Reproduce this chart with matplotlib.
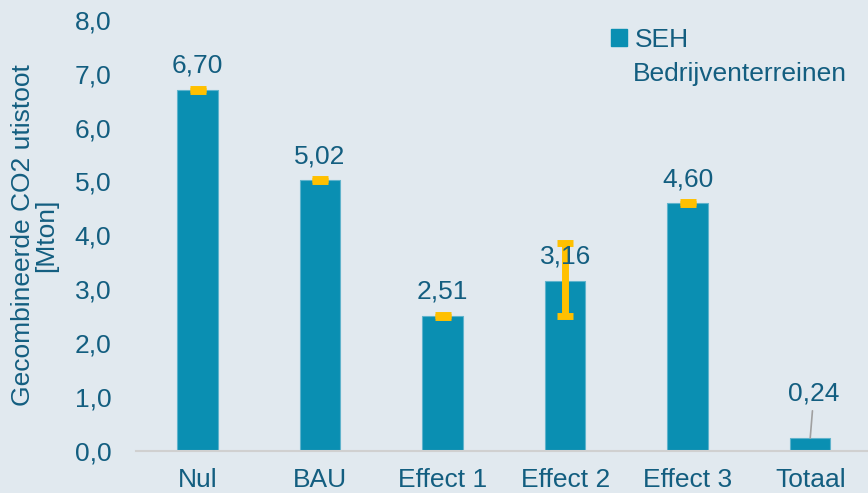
import numpy as np
import matplotlib.pyplot as plt
from matplotlib.patches import Patch

plt.rcParams['font.family'] = ['Liberation Sans', 'DejaVu Sans']

categories = ['Nul', 'BAU', 'Effect 1', 'Effect 2', 'Effect 3', 'Totaal']
values = [6.70, 5.02, 2.51, 3.16, 4.60, 0.24]
labels = ['6,70', '5,02', '2,51', '3,16', '4,60', '0,24']
err_low = [0.02, 0.02, 0.02, 0.66, 0.02, 0.0]
err_high = [0.02, 0.02, 0.02, 0.70, 0.02, 0.0]

bg = '#E1E9EF'
bar_col = '#0A8FB2'
txt = '#135E80'
yellow = '#FFC000'
fs = 19

fig = plt.figure(figsize=(8.68, 4.93), dpi=100, facecolor=bg)
ax = fig.add_axes([0.157, 0.085, 0.847, 0.875], facecolor=bg)

x = np.arange(len(categories))
ax.bar(x, values, width=0.33, color=bar_col, edgecolor='#5FB3CC', linewidth=0.8,
       zorder=2)
ax.errorbar(x[:5], values[:5], yerr=[err_low[:5], err_high[:5]], fmt='none',
            ecolor=yellow, elinewidth=5, capsize=6, capthick=5, zorder=3)

for i in range(5):
    ax.text(x[i], values[i] + 0.22, labels[i], ha='center', va='bottom',
            fontsize=fs, color=txt, zorder=4)
# Totaal label with leader line
ax.annotate(labels[5], xy=(x[5], values[5]), xytext=(x[5] + 0.03, 0.85),
            ha='center', va='bottom', fontsize=fs, color=txt,
            arrowprops=dict(arrowstyle='-', color='#A0A0A0', lw=1.2,
                            shrinkA=2, shrinkB=0))

ax.set_xlim(-0.5, 5.5)
ax.set_ylim(0, 8)
ax.set_yticks(np.arange(0, 8.1, 1))
ax.set_yticklabels([f'{v:.1f}'.replace('.', ',') for v in np.arange(0, 8.1, 1)])
ax.set_xticks(x)
ax.set_xticklabels(categories)
ax.tick_params(axis='both', length=0, labelsize=fs, labelcolor=txt)
ax.tick_params(axis='x', pad=12)
ax.tick_params(axis='y', pad=18)
for s in ['top', 'right', 'left']:
    ax.spines[s].set_visible(False)
ax.spines['bottom'].set_color('#D0D0D0')
ax.spines['bottom'].set_linewidth(1.5)

ax.set_ylabel('Gecombineerde CO2 utistoot\n[Mton]', fontsize=fs, color=txt,
              linespacing=0.95, labelpad=12)

# legend: square next to first line, second line below
leg = ax.legend(handles=[Patch(color=bar_col)], labels=['SEH'],
                loc='upper left', bbox_to_anchor=(611 / 868, 1 - 28 / 493),
                bbox_transform=fig.transFigure, frameon=False, borderpad=0,
                borderaxespad=0, fontsize=fs, handlelength=0.6,
                handleheight=0.6, handletextpad=0.3, labelcolor=txt)
fig.text(633 / 868, 1 - 62 / 493, 'Bedrijventerreinen', ha='left', va='top',
         fontsize=fs, color=txt)

plt.savefig('out.png', dpi=100, facecolor=bg)
